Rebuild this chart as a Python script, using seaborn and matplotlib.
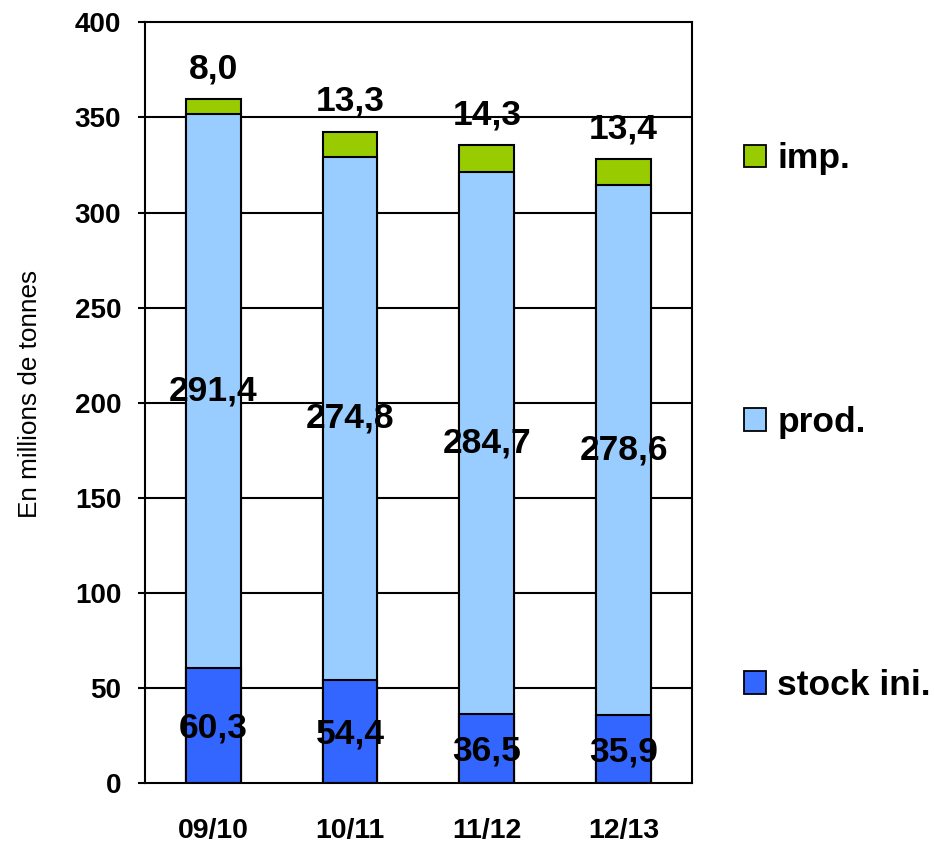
import matplotlib
matplotlib.use("Agg")
import matplotlib.pyplot as plt
import seaborn as sns
import pandas as pd
from matplotlib.patches import Patch

seasons = ["09/10", "10/11", "11/12", "12/13"]
stock_ini = [60.3, 54.4, 36.5, 35.9]
prod = [291.4, 274.8, 284.7, 278.6]
imp = [8.0, 13.3, 14.3, 13.4]
series_names = ["stock ini.", "prod.", "imp."]
colors = {"stock ini.": "#3366FF", "prod.": "#99CCFF", "imp.": "#99CC00"}
y_ticks = [0, 50, 100, 150, 200, 250, 300, 350, 400]

sns.set_theme(style="white")
plt.rcParams["font.family"] = ["Liberation Sans", "DejaVu Sans"]
plt.rcParams["text.color"] = "black"
plt.rcParams["axes.labelcolor"] = "black"
plt.rcParams["xtick.color"] = "black"
plt.rcParams["ytick.color"] = "black"

df = pd.DataFrame({"season": seasons, "stock": stock_ini, "prod": prod, "imp": imp})
df["c1"] = df["stock"]
df["c2"] = df["stock"] + df["prod"]
df["c3"] = df["c2"] + df["imp"]

fig = plt.figure(figsize=(9.34, 8.47), dpi=100)
ax = fig.add_axes([0.155, 0.0756, 0.586, 0.898])
ax.set_axisbelow(True)
for y in y_ticks[1:-1]:
    ax.axhline(y, color="black", lw=1.5, zorder=0)

for col, name in [("c3", "imp."), ("c2", "prod."), ("c1", "stock ini.")]:
    sns.barplot(data=df, x="season", y=col, color=colors[name], saturation=1,
                width=0.4, edgecolor="black", linewidth=1.5, ax=ax, zorder=2)

ax.set_ylim(0, 400)
ax.set_xlim(-0.5, 3.5)
ax.set_yticks(y_ticks)
ax.set_yticklabels([str(t) for t in y_ticks], fontweight="bold", fontsize=20)
ax.set_xticks(range(len(seasons)))
ax.set_xticklabels(seasons, fontweight="bold", fontsize=20.5)
ax.tick_params(axis="x", length=0, pad=25)
ax.tick_params(axis="y", length=5, width=1.5, color="black", direction="out", pad=12, left=True)
ax.set_xlabel("")
ax.set_ylabel("En millions de tonnes", fontsize=18.8)
ax.yaxis.set_label_coords(-0.188, 0.512)
for s in ax.spines.values():
    s.set_color("black")
    s.set_linewidth(1.5)
    s.set_visible(True)

for i in range(len(seasons)):
    s, p, m = stock_ini[i], prod[i], imp[i]
    ax.text(i, s / 2 - 1.5, f"{s:.1f}".replace(".", ","), ha="center", va="center",
            fontsize=25.5, fontweight="bold", zorder=5)
    ax.text(i, s + p / 2, f"{p:.1f}".replace(".", ","), ha="center", va="center",
            fontsize=25.5, fontweight="bold", zorder=5)
    ax.text(i, s + p + m + 16, f"{m:.1f}".replace(".", ","), ha="center", va="center",
            fontsize=25.5, fontweight="bold", zorder=5)

handles = [Patch(facecolor=colors[n], edgecolor="black", linewidth=1.3) for n in reversed(series_names)]
leg = ax.legend(handles, list(reversed(series_names)), loc="upper left",
                bbox_to_anchor=(1.036, 0.884), frameon=False,
                prop={"weight": "bold", "size": 25.5},
                labelspacing=6.5, handlelength=0.62, handleheight=0.62, handletextpad=0.33)

fig.savefig("out.png", dpi=100)
